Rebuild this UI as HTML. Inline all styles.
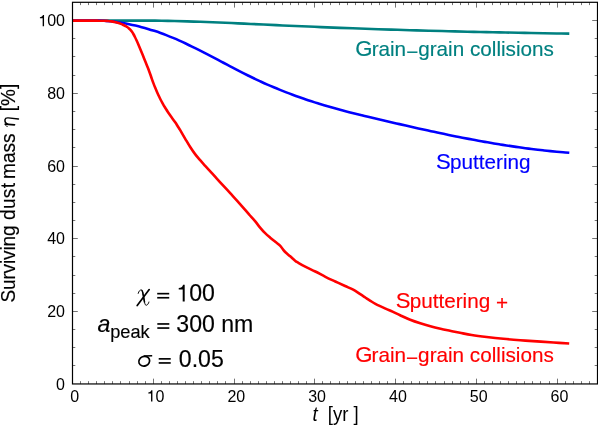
<!DOCTYPE html>
<html><head><meta charset="utf-8"><title>Surviving dust mass</title>
<style>
html,body{margin:0;padding:0;background:#fff;}
body{width:598px;height:426px;overflow:hidden;font-family:"Liberation Sans",sans-serif;}
svg{display:block;will-change:transform;}
text{font-family:"Liberation Sans",sans-serif;}
.it{font-style:italic;}
.gr{font-family:"Liberation Serif",serif;font-style:italic;}
</style></head><body>
<svg width="598" height="426" viewBox="0 0 598 426">
<rect x="0" y="0" width="598" height="426" fill="#ffffff"/>
<path d="M80.50,383.95v-2.80M80.50,2.30v2.80M88.50,383.95v-2.80M88.50,2.30v2.80M96.50,383.95v-2.80M96.50,2.30v2.80M104.50,383.95v-2.80M104.50,2.30v2.80M112.50,383.95v-2.80M112.50,2.30v2.80M120.50,383.95v-2.80M120.50,2.30v2.80M129.50,383.95v-2.80M129.50,2.30v2.80M137.50,383.95v-2.80M137.50,2.30v2.80M145.50,383.95v-2.80M145.50,2.30v2.80M153.50,383.95v-5.30M153.50,2.30v5.30M161.50,383.95v-2.80M161.50,2.30v2.80M169.50,383.95v-2.80M169.50,2.30v2.80M177.50,383.95v-2.80M177.50,2.30v2.80M185.50,383.95v-2.80M185.50,2.30v2.80M193.50,383.95v-2.80M193.50,2.30v2.80M201.50,383.95v-2.80M201.50,2.30v2.80M209.50,383.95v-2.80M209.50,2.30v2.80M217.50,383.95v-2.80M217.50,2.30v2.80M225.50,383.95v-2.80M225.50,2.30v2.80M234.50,383.95v-5.30M234.50,2.30v5.30M242.50,383.95v-2.80M242.50,2.30v2.80M250.50,383.95v-2.80M250.50,2.30v2.80M258.50,383.95v-2.80M258.50,2.30v2.80M266.50,383.95v-2.80M266.50,2.30v2.80M274.50,383.95v-2.80M274.50,2.30v2.80M282.50,383.95v-2.80M282.50,2.30v2.80M290.50,383.95v-2.80M290.50,2.30v2.80M298.50,383.95v-2.80M298.50,2.30v2.80M306.50,383.95v-2.80M306.50,2.30v2.80M314.50,383.95v-5.30M314.50,2.30v5.30M322.50,383.95v-2.80M322.50,2.30v2.80M330.50,383.95v-2.80M330.50,2.30v2.80M339.50,383.95v-2.80M339.50,2.30v2.80M347.50,383.95v-2.80M347.50,2.30v2.80M355.50,383.95v-2.80M355.50,2.30v2.80M363.50,383.95v-2.80M363.50,2.30v2.80M371.50,383.95v-2.80M371.50,2.30v2.80M379.50,383.95v-2.80M379.50,2.30v2.80M387.50,383.95v-2.80M387.50,2.30v2.80M395.50,383.95v-5.30M395.50,2.30v5.30M403.50,383.95v-2.80M403.50,2.30v2.80M411.50,383.95v-2.80M411.50,2.30v2.80M419.50,383.95v-2.80M419.50,2.30v2.80M427.50,383.95v-2.80M427.50,2.30v2.80M435.50,383.95v-2.80M435.50,2.30v2.80M444.50,383.95v-2.80M444.50,2.30v2.80M452.50,383.95v-2.80M452.50,2.30v2.80M460.50,383.95v-2.80M460.50,2.30v2.80M468.50,383.95v-2.80M468.50,2.30v2.80M476.50,383.95v-5.30M476.50,2.30v5.30M484.50,383.95v-2.80M484.50,2.30v2.80M492.50,383.95v-2.80M492.50,2.30v2.80M500.50,383.95v-2.80M500.50,2.30v2.80M508.50,383.95v-2.80M508.50,2.30v2.80M516.50,383.95v-2.80M516.50,2.30v2.80M524.50,383.95v-2.80M524.50,2.30v2.80M532.50,383.95v-2.80M532.50,2.30v2.80M540.50,383.95v-2.80M540.50,2.30v2.80M549.50,383.95v-2.80M549.50,2.30v2.80M557.50,383.95v-5.30M557.50,2.30v5.30M565.50,383.95v-2.80M565.50,2.30v2.80M573.50,383.95v-2.80M573.50,2.30v2.80M581.50,383.95v-2.80M581.50,2.30v2.80M589.50,383.95v-2.80M589.50,2.30v2.80M72.50,365.50h2.80M597.50,365.50h-2.80M72.50,347.50h2.80M597.50,347.50h-2.80M72.50,329.50h2.80M597.50,329.50h-2.80M72.50,311.50h5.30M597.50,311.50h-5.30M72.50,293.50h2.80M597.50,293.50h-2.80M72.50,275.50h2.80M597.50,275.50h-2.80M72.50,256.50h2.80M597.50,256.50h-2.80M72.50,238.50h5.30M597.50,238.50h-5.30M72.50,220.50h2.80M597.50,220.50h-2.80M72.50,202.50h2.80M597.50,202.50h-2.80M72.50,184.50h2.80M597.50,184.50h-2.80M72.50,166.50h5.30M597.50,166.50h-5.30M72.50,147.50h2.80M597.50,147.50h-2.80M72.50,129.50h2.80M597.50,129.50h-2.80M72.50,111.50h2.80M597.50,111.50h-2.80M72.50,93.50h5.30M597.50,93.50h-5.30M72.50,75.50h2.80M597.50,75.50h-2.80M72.50,56.50h2.80M597.50,56.50h-2.80M72.50,38.50h2.80M597.50,38.50h-2.80M72.50,20.50h5.30M597.50,20.50h-5.30" stroke="#000" stroke-width="0.55" fill="none"/>
<g fill="none" stroke-width="2.60" stroke-linejoin="round" stroke-linecap="butt">
<path d="M72.50,20.60C74.62,20.60 80.99,20.60 85.24,20.60C89.48,20.60 93.73,20.60 97.98,20.60C102.22,20.60 106.47,20.60 110.72,20.60C114.96,20.60 119.21,20.60 123.45,20.60C127.70,20.60 131.95,20.60 136.19,20.60C140.44,20.60 144.68,20.57 148.93,20.60C153.18,20.63 157.42,20.70 161.67,20.78C165.92,20.85 170.16,20.94 174.41,21.04C178.65,21.14 182.90,21.26 187.15,21.38C191.39,21.51 195.64,21.64 199.88,21.79C204.13,21.94 208.38,22.10 212.62,22.26C216.87,22.43 221.12,22.60 225.36,22.78C229.61,22.96 233.85,23.15 238.10,23.34C242.35,23.53 246.59,23.73 250.84,23.93C255.08,24.13 259.33,24.33 263.58,24.53C267.82,24.73 272.07,24.93 276.32,25.13C280.56,25.33 284.81,25.52 289.05,25.72C293.30,25.91 297.55,26.10 301.79,26.28C306.04,26.47 310.28,26.65 314.53,26.82C318.78,27.00 323.02,27.18 327.27,27.35C331.52,27.52 335.76,27.68 340.01,27.84C344.25,28.01 348.50,28.16 352.75,28.32C356.99,28.47 361.24,28.62 365.48,28.77C369.73,28.92 373.98,29.06 378.22,29.20C382.47,29.34 386.72,29.48 390.96,29.61C395.21,29.75 399.45,29.88 403.70,30.00C407.95,30.13 412.19,30.26 416.44,30.38C420.68,30.50 424.93,30.62 429.18,30.73C433.42,30.85 437.67,30.96 441.92,31.07C446.16,31.18 450.41,31.28 454.65,31.39C458.90,31.49 463.15,31.59 467.39,31.69C471.64,31.79 475.88,31.89 480.13,31.98C484.38,32.07 488.62,32.17 492.87,32.25C497.12,32.34 501.36,32.43 505.61,32.52C509.85,32.60 514.10,32.68 518.35,32.76C522.59,32.84 526.84,32.92 531.08,33.00C535.33,33.08 539.58,33.15 543.82,33.23C548.07,33.30 552.32,33.37 556.56,33.44C560.81,33.51 567.18,33.61 569.30,33.64" stroke="#008080"/>
<path d="M72.50,20.60C73.55,20.60 76.69,20.60 78.79,20.60C80.88,20.60 82.98,20.60 85.08,20.60C87.17,20.60 89.27,20.60 91.37,20.60C93.46,20.60 95.56,20.58 97.65,20.60C99.75,20.62 101.85,20.62 103.94,20.74C106.04,20.86 108.14,21.10 110.23,21.32C112.33,21.55 114.42,21.81 116.52,22.10C118.62,22.39 120.71,22.71 122.81,23.07C124.91,23.42 127.00,23.81 129.10,24.23C131.19,24.65 133.29,25.10 135.39,25.59C137.48,26.07 139.58,26.59 141.67,27.14C143.77,27.69 145.87,28.28 147.96,28.90C150.06,29.51 152.16,30.17 154.25,30.85C156.35,31.54 158.44,32.25 160.54,33.01C162.64,33.76 164.73,34.55 166.83,35.36C168.93,36.18 171.02,37.04 173.12,37.92C175.21,38.80 177.31,39.71 179.41,40.65C181.50,41.58 183.60,42.55 185.69,43.53C187.79,44.52 189.89,45.52 191.98,46.55C194.08,47.57 196.18,48.61 198.27,49.67C200.37,50.72 202.46,51.79 204.56,52.87C206.66,53.95 208.75,55.04 210.85,56.14C212.95,57.23 215.04,58.34 217.14,59.44C219.23,60.55 221.33,61.66 223.43,62.76C225.52,63.87 227.62,64.98 229.72,66.08C231.81,67.18 233.91,68.28 236.00,69.37C238.10,70.45 240.20,71.53 242.29,72.60C244.39,73.66 246.48,74.72 248.58,75.76C250.68,76.80 252.77,77.82 254.87,78.82C256.97,79.82 259.06,80.80 261.16,81.77C263.25,82.73 265.35,83.67 267.45,84.59C269.54,85.52 271.64,86.42 273.74,87.30C275.83,88.19 277.93,89.06 280.02,89.90C282.12,90.75 284.22,91.58 286.31,92.39C288.41,93.21 290.51,94.00 292.60,94.78C294.70,95.56 296.79,96.32 298.89,97.06C300.99,97.80 303.08,98.53 305.18,99.24C307.27,99.96 309.37,100.65 311.47,101.33C313.56,102.01 315.66,102.68 317.76,103.33C319.85,103.98 321.95,104.61 324.04,105.23C326.14,105.86 328.24,106.46 330.33,107.06C332.43,107.66 334.53,108.24 336.62,108.82C338.72,109.39 340.81,109.95 342.91,110.51C345.01,111.06 347.10,111.60 349.20,112.14C351.29,112.68 353.39,113.20 355.49,113.73C357.58,114.25 359.68,114.76 361.78,115.27C363.87,115.78 365.97,116.29 368.06,116.79C370.16,117.29 372.26,117.79 374.35,118.28C376.45,118.78 378.55,119.27 380.64,119.76C382.74,120.25 384.83,120.74 386.93,121.23C389.03,121.72 391.12,122.20 393.22,122.69C395.32,123.17 397.41,123.66 399.51,124.14C401.60,124.62 403.70,125.10 405.80,125.58C407.89,126.05 409.99,126.53 412.08,127.00C414.18,127.47 416.28,127.94 418.37,128.41C420.47,128.88 422.57,129.34 424.66,129.80C426.76,130.26 428.85,130.72 430.95,131.17C433.05,131.62 435.14,132.07 437.24,132.52C439.34,132.96 441.43,133.41 443.53,133.84C445.62,134.28 447.72,134.72 449.82,135.15C451.91,135.58 454.01,136.00 456.11,136.42C458.20,136.84 460.30,137.26 462.39,137.67C464.49,138.08 466.59,138.48 468.68,138.88C470.78,139.28 472.87,139.68 474.97,140.07C477.07,140.46 479.16,140.84 481.26,141.22C483.36,141.59 485.45,141.97 487.55,142.33C489.64,142.70 491.74,143.06 493.84,143.41C495.93,143.76 498.03,144.11 500.13,144.45C502.22,144.79 504.32,145.12 506.41,145.44C508.51,145.77 510.61,146.09 512.70,146.40C514.80,146.71 516.89,147.01 518.99,147.31C521.09,147.60 523.18,147.89 525.28,148.17C527.38,148.45 529.47,148.72 531.57,148.99C533.66,149.25 535.76,149.50 537.86,149.75C539.95,150.00 542.05,150.24 544.15,150.46C546.24,150.69 548.34,150.91 550.43,151.12C552.53,151.34 554.63,151.54 556.72,151.73C558.82,151.92 560.92,152.10 563.01,152.28C565.11,152.45 568.25,152.68 569.30,152.77" stroke="#0000ff"/>
<path d="M72.50,20.60C72.76,20.60 73.54,20.60 74.06,20.60C74.58,20.60 75.10,20.60 75.62,20.60C76.14,20.60 76.66,20.60 77.18,20.60C77.70,20.60 78.22,20.60 78.74,20.60C79.26,20.60 79.78,20.60 80.30,20.60C80.82,20.60 81.34,20.60 81.87,20.60C82.39,20.60 82.91,20.60 83.43,20.60C83.95,20.60 84.47,20.60 84.99,20.60C85.51,20.60 86.03,20.60 86.55,20.60C87.07,20.60 87.59,20.60 88.11,20.60C88.63,20.60 89.15,20.60 89.67,20.60C90.19,20.60 90.71,20.60 91.23,20.60C91.75,20.60 92.27,20.60 92.79,20.60C93.31,20.60 93.83,20.60 94.35,20.60C94.87,20.60 95.39,20.60 95.91,20.60C96.43,20.60 96.95,20.57 97.47,20.60C97.99,20.63 98.51,20.74 99.03,20.77C99.56,20.79 100.08,20.74 100.60,20.74C101.12,20.73 101.64,20.73 102.16,20.73C102.68,20.73 103.20,20.74 103.72,20.75C104.24,20.76 104.76,20.78 105.28,20.80C105.80,20.83 106.32,20.85 106.84,20.89C107.36,20.92 107.88,20.96 108.40,21.01C108.92,21.06 109.44,21.11 109.96,21.18C110.48,21.24 111.00,21.31 111.52,21.39C112.04,21.47 112.56,21.55 113.08,21.65C113.60,21.75 114.12,21.85 114.64,21.97C115.16,22.08 115.68,22.21 116.20,22.34C116.72,22.48 117.24,22.63 117.77,22.78C118.29,22.94 118.81,23.11 119.33,23.29C119.85,23.47 120.37,23.66 120.89,23.87C121.41,24.08 121.93,24.29 122.45,24.52C122.97,24.76 123.49,25.00 124.01,25.26C124.53,25.52 125.05,25.78 125.57,26.07C126.09,26.37 126.61,26.66 127.13,27.01C127.65,27.36 128.17,27.72 128.69,28.16C129.21,28.60 129.73,29.07 130.25,29.64C130.77,30.20 131.29,30.82 131.81,31.55C132.33,32.28 132.85,33.10 133.37,34.01C133.89,34.91 134.41,35.92 134.93,36.97C135.46,38.01 135.98,39.14 136.50,40.28C137.02,41.42 137.54,42.61 138.06,43.81C138.58,45.01 139.10,46.24 139.62,47.48C140.14,48.72 140.66,49.99 141.18,51.26C141.70,52.53 142.22,53.82 142.74,55.10C143.26,56.39 143.78,57.68 144.30,58.97C144.82,60.25 145.34,61.53 145.86,62.82C146.38,64.10 146.90,65.37 147.42,66.69C147.94,68.01 148.46,69.32 148.98,70.72C149.50,72.11 150.02,73.56 150.54,75.04C151.06,76.52 151.58,78.11 152.10,79.58C152.62,81.05 153.14,82.49 153.67,83.87C154.19,85.24 154.71,86.56 155.23,87.84C155.75,89.12 156.27,90.35 156.79,91.55C157.31,92.74 157.83,93.89 158.35,95.01C158.87,96.13 159.39,97.20 159.91,98.24C160.43,99.29 160.95,100.29 161.47,101.26C161.99,102.24 162.51,103.18 163.03,104.10C163.55,105.01 164.07,105.90 164.59,106.76C165.11,107.63 165.63,108.47 166.15,109.29C166.67,110.12 167.19,110.92 167.71,111.71C168.23,112.50 168.75,113.27 169.27,114.04C169.79,114.81 169.85,114.93 170.83,116.31C171.82,117.69 174.06,120.65 175.20,122.30C176.34,123.95 176.87,124.88 177.70,126.20C178.53,127.52 178.94,128.10 180.20,130.20C181.46,132.30 183.58,136.00 185.25,138.80C186.92,141.60 188.56,144.45 190.20,147.00C191.84,149.55 193.44,151.90 195.10,154.10C196.76,156.30 198.47,158.25 200.15,160.20C201.83,162.15 203.52,163.95 205.20,165.80C206.88,167.65 208.57,169.45 210.25,171.30C211.93,173.15 213.64,175.07 215.30,176.90C216.96,178.73 217.72,179.58 220.20,182.30C222.68,185.02 226.85,189.53 230.20,193.20C233.55,196.87 237.00,200.58 240.30,204.30C243.60,208.02 247.54,212.70 250.00,215.50C252.46,218.30 253.37,219.08 255.05,221.10C256.73,223.12 258.42,225.58 260.10,227.60C261.78,229.62 263.47,231.52 265.15,233.20C266.83,234.88 268.52,236.27 270.20,237.70C271.88,239.13 273.57,240.45 275.25,241.80C276.93,243.15 278.96,244.46 280.30,245.80C281.64,247.14 282.35,248.68 283.30,249.85C284.25,251.02 284.85,251.73 286.00,252.80C287.15,253.88 288.68,254.98 290.20,256.30C291.72,257.62 293.78,259.63 295.10,260.70C296.42,261.77 296.42,261.70 298.10,262.70C299.78,263.70 302.33,265.23 305.20,266.70C308.07,268.17 311.93,269.82 315.30,271.50C318.67,273.18 322.07,275.13 325.40,276.80C328.73,278.47 332.02,279.97 335.30,281.50C338.58,283.03 342.12,284.63 345.10,286.00C348.08,287.37 350.68,288.33 353.20,289.70C355.72,291.07 358.23,292.90 360.25,294.20C362.27,295.50 363.62,296.40 365.30,297.50C366.98,298.60 368.67,299.75 370.35,300.80C372.03,301.85 372.88,302.50 375.40,303.80C377.92,305.10 382.65,307.30 385.50,308.60C388.35,309.90 390.07,310.50 392.50,311.60C394.93,312.70 397.15,313.84 400.10,315.20C403.05,316.56 406.83,318.40 410.20,319.75C413.57,321.10 416.93,322.21 420.30,323.30C423.67,324.39 427.03,325.38 430.40,326.30C433.77,327.22 437.23,328.05 440.50,328.80C443.77,329.55 446.75,330.13 450.00,330.80C453.25,331.47 456.38,332.10 460.00,332.80C463.62,333.50 467.25,334.30 471.70,335.00C476.15,335.70 481.42,336.37 486.70,337.00C491.98,337.63 497.82,338.27 503.40,338.80C508.98,339.33 514.60,339.77 520.20,340.20C525.80,340.63 531.43,341.02 537.00,341.40C542.57,341.78 548.23,342.15 553.60,342.50C558.97,342.85 566.60,343.33 569.20,343.50" stroke="#ff0000"/>
</g>
<rect x="72.50" y="2.30" width="525.00" height="381.65" fill="none" stroke="#000" stroke-width="1.20"/>
<g font-size="16.00" fill="#000">
<text transform="translate(65.00,389.70) scale(1.0000,1.0000)" text-anchor="end">0</text>
<text transform="translate(65.00,317.00) scale(1.0000,1.0000)" text-anchor="end">20</text>
<text transform="translate(65.00,244.31) scale(1.0000,1.0000)" text-anchor="end">40</text>
<text transform="translate(65.00,171.61) scale(1.0000,1.0000)" text-anchor="end">60</text>
<text transform="translate(65.00,98.92) scale(1.0000,1.0000)" text-anchor="end">80</text>
<text transform="translate(65.00,26.22) scale(1.0000,1.0000)" text-anchor="end">00</text>
<path d="M0.359,0L0.273,0L0.273,0.505L0.101,0.505L0.101,0.568C0.20,0.572 0.262,0.61 0.290,0.703L0.359,0.703Z" fill="#000" transform="translate(38.30,26.22) scale(16.000,-16.000)"/>
<text transform="translate(74.80,401.60) scale(1.0000,1.0000)" text-anchor="middle">0</text>
<path d="M0.359,0L0.273,0L0.273,0.505L0.101,0.505L0.101,0.568C0.20,0.572 0.262,0.61 0.290,0.703L0.359,0.703Z" fill="#000" transform="translate(146.67,401.60) scale(16.000,-16.000)"/>
<text transform="translate(155.57,401.60) scale(1.0000,1.0000)" text-anchor="start">0</text>
<text transform="translate(236.34,401.60) scale(1.0000,1.0000)" text-anchor="middle">20</text>
<text transform="translate(317.11,401.60) scale(1.0000,1.0000)" text-anchor="middle">30</text>
<text transform="translate(397.88,401.60) scale(1.0000,1.0000)" text-anchor="middle">40</text>
<text transform="translate(478.65,401.60) scale(1.0000,1.0000)" text-anchor="middle">50</text>
<text transform="translate(559.42,401.60) scale(1.0000,1.0000)" text-anchor="middle">60</text>
</g>
<g font-size="18.60" fill="#000">
<text transform="translate(312.60,420.60) scale(1.0000,1.0400)" ><tspan class="it">t</tspan><tspan dx="10.00">[yr ]</tspan></text>
<g transform="translate(15.00,303.00) rotate(-90) scale(1,1.0400)" font-size="19.05" fill="#000" stroke="#000" stroke-width="0.15">
<text x="0.40" y="0" textLength="77.20" lengthAdjust="spacing">Surviving</text>
<text x="83.00" y="0" textLength="37.00" lengthAdjust="spacing">dust</text>
<text x="124.00" y="0" textLength="45.60" lengthAdjust="spacing">mass</text>
<text x="191.70" y="0" textLength="27.50" lengthAdjust="spacing">[%]</text>
<g fill="none" stroke="#000" stroke-linecap="round" stroke-linejoin="round" transform="translate(0.00,0.00)">
<path d="M178.95,-9.3L178.2,-0.5" stroke-width="1.7"/>
<path d="M178.8,-7.0C179.6,-8.8 181.5,-9.9 183.3,-9.6C184.9,-9.3 185.3,-8.2 185.1,-6.5L184.0,3.3" stroke-width="1.45"/>
<path d="M176.5,-7.4C176.8,-8.8 177.8,-9.6 178.9,-9.3" stroke-width="0.8"/>
</g>
</g>
</g>
<g font-size="20.70">
<text transform="translate(355.30,56.00) scale(1.0000,1.0000)" fill="#008080" stroke="#008080" stroke-width="0.15"><tspan font-size="22.15">G</tspan><tspan dx="-0.90">rain</tspan><tspan dy="3.00">&#8722;</tspan><tspan dy="-3.00">grain collisions</tspan></text>
<text transform="translate(436.10,169.40) scale(1.0000,1.0000)" fill="#0000ff" stroke="#0000ff" stroke-width="0.15"><tspan font-size="22.15">S</tspan><tspan dx="-0.90">puttering</tspan></text>
<text transform="translate(395.80,307.70) scale(1.0000,1.0000)" fill="#ff0000" stroke="#ff0000" stroke-width="0.15"><tspan font-size="22.15">S</tspan><tspan dx="-0.90">puttering </tspan><tspan dy="2.00">+</tspan></text>
<text transform="translate(355.20,362.00) scale(1.0000,1.0000)" fill="#ff0000" stroke="#ff0000" stroke-width="0.15"><tspan font-size="22.15">G</tspan><tspan dx="-0.90">rain</tspan><tspan dy="3.00">&#8722;</tspan><tspan dy="-3.00">grain collisions</tspan></text>
</g>
<g font-size="23.10">
<text transform="translate(189.25,301.40) scale(1.0000,1.0300)" fill="#000" stroke="#000" stroke-width="0.15">00</text>
<text transform="translate(97.40,331.70) scale(1.0000,1.0300)" fill="#000" stroke="#000" stroke-width="0.15"><tspan class="it">a</tspan><tspan font-size="18.20" dy="6.30">peak</tspan></text>
<text transform="translate(176.30,331.70) scale(1.0000,1.0300)" fill="#000" stroke="#000" stroke-width="0.15">300 nm</text>
<text transform="translate(178.80,366.60) scale(1.0000,1.0300)" fill="#000" stroke="#000" stroke-width="0.15">0.05</text>
</g>
<path d="M0.359,0L0.273,0L0.273,0.505L0.101,0.505L0.101,0.568C0.20,0.572 0.262,0.61 0.290,0.703L0.359,0.703Z" fill="#000" transform="translate(176.40,301.40) scale(23.100,-23.793)"/>
<rect x="157.21" y="296.92" width="12.01" height="1.66" fill="#000"/>
<rect x="157.21" y="292.83" width="12.01" height="1.66" fill="#000"/>
<rect x="157.31" y="327.22" width="12.01" height="1.66" fill="#000"/>
<rect x="157.31" y="323.13" width="12.01" height="1.66" fill="#000"/>
<rect x="158.71" y="362.12" width="12.01" height="1.66" fill="#000"/>
<rect x="158.71" y="358.03" width="12.01" height="1.66" fill="#000"/>
<g fill="none" stroke="#000" stroke-linecap="round" stroke-linejoin="round">
<path d="M149.2,289.6L137.2,305.5" stroke-width="1.7"/>
<path d="M138.2,293.4C138.8,291.0 140.2,289.6 141.6,290.0C142.6,290.4 142.9,292.5 143.3,295.5L144.6,302.5C145.0,304.6 145.6,305.6 146.6,305.2C147.8,304.7 148.6,303.4 148.9,302.0" stroke-width="0.95"/>
<path d="M142.0,290.6C142.7,291.5 142.9,293.0 143.3,295.5L144.5,302.0" stroke-width="1.5"/>
<ellipse cx="144.2" cy="361.2" rx="5.5" ry="4.8" transform="rotate(-22 144.2 361.2)" stroke-width="1.7"/>
<path d="M143.6,355.9L152.2,355.7" stroke-width="1.5" stroke-linecap="butt"/>
</g>
</svg>
</body></html>
